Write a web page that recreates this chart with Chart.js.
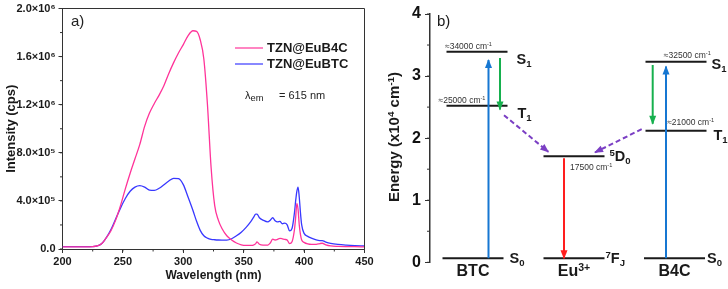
<!DOCTYPE html>
<html>
<head>
<meta charset="utf-8">
<script src="https://cdn.jsdelivr.net/npm/chart.js@4.4.1/dist/chart.umd.min.js"></script>
<style>
  body { margin: 0; background: #fff; }
  #wrap { position: relative; width: 728px; height: 289px; }
  canvas { position: absolute; top: 0; }
</style>
</head>
<body>
<div id="wrap">
  <canvas id="spectra" width="380" height="289" style="left:0"></canvas>
  <canvas id="levels" width="348" height="289" style="left:380px"></canvas>
</div>
<script>
// ---- panel a: excitation spectra (intensity in 10^6 cps) ----
const wavelengths = [200, 210, 220, 225, 230, 233, 236, 240, 244, 248, 252, 256, 260, 264, 268,
  272, 276, 280, 284, 288, 292, 296, 300, 304, 308, 311, 314, 317, 320, 323, 326, 329, 332, 336,
  340, 344, 348, 352, 356, 358, 360, 361, 363, 366, 370, 372, 374, 376, 378, 380, 382, 384, 386,
  388, 390, 392, 393, 394, 395, 396, 397, 398, 400, 403, 406, 410, 413, 415, 418, 422, 428, 435,
  442, 450];
const b4cIntensity = [0.018, 0.018, 0.018, 0.02, 0.03, 0.05, 0.09, 0.15, 0.24, 0.36, 0.5, 0.63,
  0.75, 0.87, 1.02, 1.13, 1.21, 1.28, 1.36, 1.46, 1.55, 1.63, 1.70, 1.775, 1.815, 1.81, 1.74, 1.58,
  1.2, 0.68, 0.36, 0.24, 0.17, 0.11, 0.075, 0.05, 0.035, 0.03, 0.03, 0.032, 0.045, 0.06, 0.04,
  0.033, 0.033, 0.05, 0.082, 0.075, 0.08, 0.088, 0.085, 0.08, 0.074, 0.045, 0.06, 0.16, 0.26, 0.38,
  0.33, 0.2, 0.12, 0.075, 0.055, 0.042, 0.038, 0.038, 0.045, 0.048, 0.035, 0.026, 0.022, 0.02,
  0.019, 0.018];
const btcIntensity = [0.02, 0.02, 0.02, 0.02, 0.03, 0.05, 0.09, 0.16, 0.25, 0.34, 0.42, 0.48,
  0.515, 0.527, 0.515, 0.49, 0.487, 0.505, 0.535, 0.565, 0.588, 0.585, 0.535, 0.43, 0.32, 0.23,
  0.155, 0.11, 0.09, 0.08, 0.077, 0.075, 0.074, 0.074, 0.085, 0.11, 0.14, 0.18, 0.23, 0.26, 0.29,
  0.29, 0.26, 0.24, 0.225, 0.24, 0.26, 0.235, 0.225, 0.23, 0.21, 0.215, 0.2, 0.15, 0.17, 0.3, 0.4,
  0.48, 0.515, 0.43, 0.3, 0.2, 0.13, 0.105, 0.09, 0.075, 0.07, 0.07, 0.058, 0.047, 0.038, 0.032,
  0.028, 0.025];
const seriesNames = ['TZN@EuB4C', 'TZN@EuBTC'];
const xTickLabels = ['200', '250', '300', '350', '400', '450'];
const yTickLabels = ['0.0', '4.0×10⁵', '8.0×10⁵', '1.2×10⁶', '1.6×10⁶', '2.0×10⁶'];

// ---- panel b: energy level diagram (10^4 cm^-1) ----
const columnNames = ['BTC', 'Eu^{3+}', 'B4C'];
const columnBaseLevel = [2, 4, 7];
const levelNames = ['S_{1}', 'T_{1}', 'S_{0}', '^{5}D_{0}', '^{7}F_{J}', 'S_{1}', 'T_{1}', 'S_{0}'];
const levelCenters = [1.01, 1.01, 0.97, 1.98, 1.98, 3.0, 3.0, 2.985];
const levelEnergies = [3.39, 2.52, 0.065, 1.71, 0.065, 3.23, 2.12, 0.065];
const levelNotes = ['≈34000 cm^{-1}', '≈25000 cm^{-1}', '', '17500 cm^{-1}', '',
  '≈32500 cm^{-1}', '≈21000 cm^{-1}', ''];
const energyTicks = ['0', '1', '2', '3', '4'];
const arrowKinds = ['absorption', 'isc', 'transfer', 'emission', 'isc', 'absorption', 'transfer'];
const arrowStartX = [1.125, 1.24, 1.28, 1.88, 2.767, 2.90, 2.657];
const arrowStartE = [0.065, 3.29, 2.37, 1.675, 3.18, 0.065, 2.145];
const arrowEndX = [1.125, 1.24, 1.723, 1.88, 2.767, 2.90, 2.19];
const arrowEndE = [3.26, 2.46, 1.78, 0.065, 2.23, 3.155, 1.77];

const FONT = '"Liberation Sans", Arial, sans-serif';
const INK = '#1a1a1a';
const AXIS = '#333333';
const PINK = '#FF3399';
const BLUE = '#3838FF';
const ARROW_STYLE = {
  absorption: { color: '#1677D2', dash: [] },
  isc: { color: '#16B04E', dash: [] },
  transfer: { color: '#7B3FC4', dash: [5, 3] },
  emission: { color: '#FF1E1E', dash: [] },
};
const LEVEL_HALF = 0.305;
// label placement in px: name from right end of level, note from left end
const nameOffset = [[9, 7], [10, 7], [6, 0], [5, 0], [1, 0], [5, 2], [7, 4.5], [2, 0]];
const noteOffset = [[-1.5, -5.6], [-8, -6], null, [26.5, 10.7], null, [18.3, -7], [21.7, -9], null];

Chart.defaults.font.family = FONT;
Chart.defaults.color = INK;

function parseRich(s) {
  const parts = [];
  const re = /([\^_])\{([^}]*)\}|([^\^_]+)/g;
  let m;
  while ((m = re.exec(s))) {
    parts.push(m[3] !== undefined ? [m[3], ''] : [m[2], m[1] === '^' ? 'sup' : 'sub']);
  }
  return parts;
}

// draws text with super/subscripts; y is the baseline
function rich(ctx, text, x, y, size, weight, align, ratio = 0.66) {
  const parts = parseRich(text);
  const font = k => `${weight} ${k ? size * ratio : size}px ${FONT}`;
  let w = 0;
  for (const [t, k] of parts) { ctx.font = font(k); w += ctx.measureText(t).width; }
  let cx = align === 'center' ? x - w / 2 : align === 'right' ? x - w : x;
  ctx.textAlign = 'left';
  ctx.textBaseline = 'alphabetic';
  for (const [t, k] of parts) {
    ctx.font = font(k);
    const dy = k === 'sup' ? -size * 0.36 : k === 'sub' ? size * 0.2 : 0;
    ctx.fillText(t, cx, y + dy);
    cx += ctx.measureText(t).width;
  }
}

function drawMinor(chart, axis, step, len) {
  const s = chart.scales[axis];
  const ctx = chart.ctx;
  ctx.save();
  ctx.strokeStyle = AXIS;
  ctx.lineWidth = 1;
  ctx.beginPath();
  for (let v = s.min; v <= s.max + step * 1e-6; v += step) {
    const p = s.getPixelForValue(v);
    if (axis === 'x') { ctx.moveTo(p, s.top); ctx.lineTo(p, s.top + len); }
    else { ctx.moveTo(s.right, p); ctx.lineTo(s.right - len, p); }
  }
  ctx.stroke();
  ctx.restore();
}

const spectraDecor = {
  id: 'spectraDecor',
  afterDraw(chart) {
    const { ctx, chartArea: a } = chart;
    ctx.save();
    ctx.strokeStyle = AXIS;
    ctx.lineWidth = 1;
    ctx.beginPath();
    ctx.moveTo(a.left, a.top);
    ctx.lineTo(a.right, a.top);
    ctx.lineTo(a.right, a.bottom);
    ctx.stroke();
    drawMinor(chart, 'x', 25, 2.5);
    drawMinor(chart, 'y', 2e5, 2.5);

    chart.data.datasets.forEach((ds, i) => {
      const y = 48 + 16 * i;
      ctx.strokeStyle = ds.borderColor;
      ctx.lineWidth = 1.2;
      ctx.beginPath();
      ctx.moveTo(235, y);
      ctx.lineTo(263, y);
      ctx.stroke();
      ctx.fillStyle = INK;
      ctx.font = `bold 13px ${FONT}`;
      ctx.textAlign = 'left';
      ctx.textBaseline = 'middle';
      ctx.fillText(ds.label, 267, y + 0.5);
    });
    ctx.fillStyle = '#222';
    rich(ctx, 'λ_{em}', 245, 99, 11, 'normal', 'left', 0.85);
    ctx.font = `normal 11px ${FONT}`;
    ctx.fillText('= 615 nm', 279, 99);
    ctx.font = `normal 15px ${FONT}`;
    ctx.textBaseline = 'middle';
    ctx.fillText('a)', 71, 22);
    ctx.restore();
  }
};

new Chart(document.getElementById('spectra'), {
  type: 'line',
  data: {
    datasets: [
      {
        label: seriesNames[0],
        data: wavelengths.map((w, i) => ({ x: w, y: b4cIntensity[i] * 1e6 })),
        borderColor: PINK, borderWidth: 1.3, pointRadius: 0, cubicInterpolationMode: 'monotone',
      },
      {
        label: seriesNames[1],
        data: wavelengths.map((w, i) => ({ x: w, y: btcIntensity[i] * 1e6 })),
        borderColor: BLUE, borderWidth: 1.3, pointRadius: 0, cubicInterpolationMode: 'monotone',
      },
    ],
  },
  options: {
    responsive: false,
    animation: false,
    events: [],
    layout: { padding: { top: 6, right: 15.5, left: 0, bottom: 0 } },
    plugins: { legend: { display: false }, tooltip: { enabled: false } },
    scales: {
      x: {
        type: 'linear', min: 200, max: 450,
        ticks: { stepSize: 50, padding: 3, color: INK, font: { size: 11, weight: 'bold', lineHeight: 1 },
          callback: (v, i) => xTickLabels[i] },
        grid: { drawOnChartArea: false, tickLength: 4, tickColor: AXIS },
        border: { color: AXIS, width: 1 },
        title: { display: true, text: 'Wavelength (nm)', color: INK,
          font: { size: 12, weight: 'bold' }, padding: { top: 0, bottom: 6 } },
        afterFit: s => { s.height = 40; },
      },
      y: {
        min: 0, max: 2e6,
        ticks: { stepSize: 4e5, padding: 3, color: INK, font: { size: 11, weight: 'bold', lineHeight: 1 },
          callback: (v, i) => yTickLabels[i] },
        grid: { drawOnChartArea: false, tickLength: 4, tickColor: AXIS },
        border: { color: AXIS, width: 1 },
        title: { display: true, text: 'Intensity (cps)', color: INK,
          font: { size: 13, weight: 'bold' }, padding: { top: 4, bottom: 0 } },
        afterFit: s => { s.width = 62.5; },
      },
    },
  },
  plugins: [spectraDecor],
});

const levelDecor = {
  id: 'levelDecor',
  afterDatasetsDraw(chart) {
    const ctx = chart.ctx;
    ctx.save();
    chart.data.datasets.forEach((ds, i) => {
      if (!ds.arrow) return;
      const [p0, p1] = chart.getDatasetMeta(i).data;
      const ang = Math.atan2(p1.y - p0.y, p1.x - p0.x);
      const c = Math.cos(ang), s = Math.sin(ang), L = 8, W = 3.5;
      ctx.fillStyle = ds.borderColor;
      ctx.beginPath();
      ctx.moveTo(p1.x + c, p1.y + s);
      ctx.lineTo(p1.x - L * c + W * s, p1.y - L * s - W * c);
      ctx.lineTo(p1.x - L * c - W * s, p1.y - L * s + W * c);
      ctx.closePath();
      ctx.fill();
    });
    ctx.restore();
  },
  afterDraw(chart) {
    const { ctx, scales: { x, y } } = chart;
    ctx.save();
    drawMinor(chart, 'y', 0.5, 3);
    ctx.fillStyle = INK;
    levelNames.forEach((name, i) => {
      const ly = y.getPixelForValue(levelEnergies[i]);
      const right = x.getPixelForValue(levelCenters[i] + LEVEL_HALF);
      const left = x.getPixelForValue(levelCenters[i] - LEVEL_HALF);
      const [dx, dy] = nameOffset[i];
      rich(ctx, name, right + dx, ly + dy + 14.5 * 0.36, 14.5, 'bold', 'left');
      if (noteOffset[i]) {
        ctx.fillStyle = '#333';
        rich(ctx, levelNotes[i], left + noteOffset[i][0], ly + noteOffset[i][1] + 3, 8.5, 'normal', 'left');
        ctx.fillStyle = INK;
      }
    });
    columnNames.forEach((name, c) => {
      const li = columnBaseLevel[c];
      const cx = x.getPixelForValue(levelCenters[li]);
      rich(ctx, name, cx, y.getPixelForValue(levelEnergies[li]) + 18, 16, 'bold', 'center');
    });
    ctx.font = `normal 15px ${FONT}`;
    ctx.textAlign = 'left';
    ctx.textBaseline = 'middle';
    ctx.fillText('b)', 57, 22);

    ctx.translate(14, 137);
    ctx.rotate(-Math.PI / 2);
    rich(ctx, 'Energy (x10^{4} cm^{-1})', 0, 15 * 0.36, 15, 'bold', 'center');
    ctx.restore();
  }
};

const levelSets = levelEnergies.map((e, i) => ({
  data: [{ x: levelCenters[i] - LEVEL_HALF, y: e }, { x: levelCenters[i] + LEVEL_HALF, y: e }],
  borderColor: INK, borderWidth: 2, pointRadius: 0, order: 2,
}));
const arrowSets = arrowKinds.map((k, i) => ({
  data: [{ x: arrowStartX[i], y: arrowStartE[i] }, { x: arrowEndX[i], y: arrowEndE[i] }],
  borderColor: ARROW_STYLE[k].color, borderDash: ARROW_STYLE[k].dash,
  borderWidth: 2, pointRadius: 0, order: 1, arrow: true,
}));

new Chart(document.getElementById('levels'), {
  type: 'line',
  data: { datasets: [...arrowSets, ...levelSets] },
  options: {
    responsive: false,
    animation: false,
    events: [],
    layout: { padding: { top: 14, bottom: 26.7, left: 0, right: 0 } },
    plugins: { legend: { display: false }, tooltip: { enabled: false } },
    scales: {
      x: { type: 'linear', min: 0.54, max: 3.52, display: false },
      y: {
        min: 0, max: 4,
        ticks: { stepSize: 1, padding: 4, color: '#111', font: { size: 16, weight: 'bold', lineHeight: 1 },
          callback: (v, i) => energyTicks[i] },
        grid: { drawOnChartArea: false, tickLength: 5, tickColor: AXIS },
        border: { color: AXIS, width: 1.5 },
        afterFit: s => { s.width = 50; },
      },
    },
  },
  plugins: [levelDecor],
});
</script>
</body>
</html>
